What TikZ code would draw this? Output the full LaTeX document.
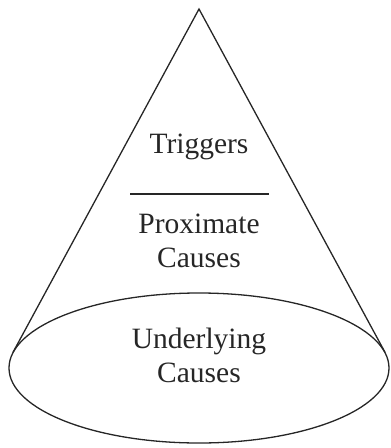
\documentclass[tikz,border=0pt]{standalone}
\usepackage{fontspec}
\setmainfont{Liberation Serif}
\begin{document}
\begin{tikzpicture}[x=1pt,y=-1pt,
  edge/.style={line width=1.3pt, draw=black!85},
  lbl/.style={font=\fontsize{29.5}{34}\selectfont, text=black!85, align=center, inner sep=0pt}]
\useasboundingbox (0,0) rectangle (391,448);
\coordinate (apex) at (199,9);
\coordinate (tl) at (13,352.3);
\coordinate (tr) at (385,352.3);
\draw[edge] (tl) -- (apex) -- (tr);
\draw[edge] (199,368) ellipse [x radius=190, y radius=75];
\coordinate (la) at (130,194);
\coordinate (lb) at (269,194);
\draw[edge] (la) -- (lb);
\node[lbl] (trig) at (199,147) {Triggers};
\node[lbl] (prox) at (199,241) {Proximate\\Causes};
\node[lbl] (under) at (199,355) {Underlying\\Causes};
\end{tikzpicture}
\end{document}
